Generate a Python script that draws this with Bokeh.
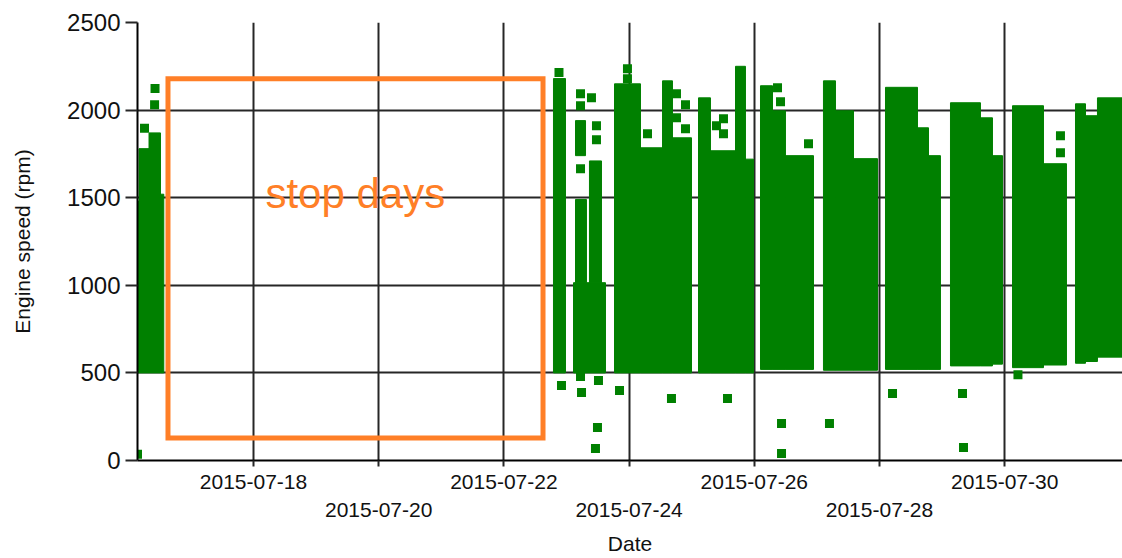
from datetime import datetime, timedelta

from bokeh.core.properties import value
from bokeh.embed import file_html
from bokeh.models import DatetimeAxis, FixedTicker, Range1d
from bokeh.plotting import figure
from bokeh.resources import INLINE

# ---------------- data (x = day of July 2015, fractional; y = rpm) ----------------
# dense bands of recorded engine speed (start day, end day, lowest rpm, highest rpm)
band_start = [16.147, 16.171, 16.331, 16.514,
              22.792,
              23.112, 23.144, 23.367, 23.144,
              23.767, 24.182, 24.534, 24.693,
              25.109, 25.300, 25.700, 25.859,
              26.099, 26.291, 26.498,
              27.105, 27.297, 27.585,
              28.096, 28.607, 28.783,
              29.134, 29.613, 29.805,
              30.125, 30.620,
              31.131, 31.291, 31.482]
band_end = [16.171, 16.331, 16.514, 16.567,
            22.984,
            23.623, 23.319, 23.559, 23.304,
            24.182, 24.534, 24.693, 24.997,
            25.300, 25.700, 25.859, 25.987,
            26.291, 26.498, 26.946,
            27.297, 27.585, 27.968,
            28.607, 28.783, 28.974,
            29.613, 29.805, 29.965,
            30.620, 30.987,
            31.291, 31.482, 31.882]
band_low = [500, 500, 500, 500,
            500,
            500, 1015, 1015, 1740,
            500, 500, 500, 500,
            500, 500, 500, 500,
            520, 520, 520,
            515, 515, 515,
            520, 520, 520,
            540, 540, 550,
            530, 545,
            555, 565, 590]
band_high = [1480, 1780, 1870, 1520,
             2180,
             1015, 1490, 1710, 1940,
             2150, 1785, 2167, 1842,
             2070, 1768, 2250, 1720,
             2139, 1996, 1740,
             2167, 1996, 1723,
             2130, 1899, 1740,
             2042, 1956, 1740,
             2025, 1694,
             2036, 1968, 2070]

# individual samples (square markers)
pt_day = [16.259, 16.427, 16.420, 16.147,
          22.880,
          23.224, 23.224, 23.224, 23.399, 23.479, 23.479, 23.224,
          22.920, 23.240, 23.511, 23.495, 23.463, 23.847, 24.677,
          23.974, 23.974, 24.294, 24.757, 24.901, 24.901, 24.757,
          25.508, 25.508, 25.396, 25.572,
          26.371, 26.419, 26.866, 26.435, 26.435, 27.201,
          28.208,
          29.326, 29.342,
          30.891, 30.891, 30.212]
pt_rpm = [1897, 2124, 2030, 35,
          2215,
          2093, 2025, 1665, 2070, 1911, 1831, 479,
          428, 388, 456, 188, 68, 399, 354,
          2236, 2179, 1865, 2093, 2030, 1894, 1956,
          1951, 1865, 1911, 354,
          2127, 2047, 1808, 211, 40, 211,
          382,
          382, 74,
          1854, 1757, 490]

x_tick_days = [18, 20, 22, 24, 26, 28, 30]
x_tick_labels = ["2015-07-18", "2015-07-20", "2015-07-22", "2015-07-24",
                 "2015-07-26", "2015-07-28", "2015-07-30"]
y_ticks = [0, 500, 1000, 1500, 2000, 2500]

annotation_text = "stop days"
stop_box = dict(left=16.634, right=22.625, bottom=128, top=2179)
stop_text_pos = (18.19, 1523)

# ---------------- helpers ----------------
BASE = datetime(2015, 7, 1)
EPOCH = datetime(1970, 1, 1)


def to_dt(d):
    return BASE + timedelta(days=d - 1)


def to_ms(d):
    return (to_dt(d) - EPOCH).total_seconds() * 1000.0


GREEN = "#008000"
ORANGE = "#FF7F27"
INK = "#111111"
GRID = "#262626"
FONT = "Liberation Sans"

p = figure(width=1122, height=558, x_axis_type="datetime",
           x_range=Range1d(to_dt(16.147), to_dt(31.882)),
           y_range=Range1d(0, 2500),
           output_backend="svg", toolbar_location=None,
           min_border_left=137, min_border_right=0,
           min_border_top=22, min_border_bottom=98)
p.outline_line_color = None
p.background_fill_color = "white"
p.border_fill_color = "white"

# dense bands
p.quad(left=[to_dt(d) for d in band_start], right=[to_dt(d) for d in band_end],
       bottom=band_low, top=band_high,
       fill_color=GREEN, line_color=GREEN, line_width=1)
# single samples
p.scatter(x=[to_dt(d) for d in pt_day], y=pt_rpm, marker="square", size=9,
          fill_color=GREEN, line_color=None)

# annotation
p.quad(left=[to_dt(stop_box["left"])], right=[to_dt(stop_box["right"])],
       bottom=[stop_box["bottom"]], top=[stop_box["top"]],
       fill_color=None, line_color=ORANGE, line_width=5, line_join="miter")
p.text(x=[to_dt(stop_text_pos[0])], y=[stop_text_pos[1]], text=[annotation_text],
       text_color=ORANGE, text_font=value(FONT), text_font_size="42px",
       text_align="left", text_baseline="alphabetic")

# y axis
yt = FixedTicker(ticks=y_ticks)
ya = p.yaxis[0]
ya.ticker = yt
p.ygrid.ticker = yt
ya.axis_label = "Engine speed (rpm)"
ya.axis_label_text_font = FONT
ya.axis_label_text_font_size = "21px"
ya.axis_label_text_font_style = "normal"
ya.axis_label_text_color = INK
ya.axis_label_standoff = 30
ya.major_label_text_font = FONT
ya.major_label_text_font_size = "24px"
ya.major_label_text_color = INK
ya.major_label_standoff = 5
ya.major_tick_out = 12
ya.major_tick_in = 0
ya.major_tick_line_color = GRID
ya.major_tick_line_width = 2
ya.minor_tick_line_color = None
ya.axis_line_color = "black"
ya.axis_line_width = 2

# x axis, first row of labels
tick_ms = [to_ms(d) for d in x_tick_days]
xt = FixedTicker(ticks=tick_ms)
xa = p.xaxis[0]
xa.ticker = xt
p.xgrid.ticker = xt
xa.major_label_overrides = {ms: (lab if i % 2 == 0 else "")
                            for i, (ms, lab) in enumerate(zip(tick_ms, x_tick_labels))}
xa.major_label_text_font = FONT
xa.major_label_text_font_size = "21px"
xa.major_label_text_color = INK
xa.major_label_standoff = 8
xa.major_tick_out = 6
xa.major_tick_in = 0
xa.major_tick_line_color = GRID
xa.major_tick_line_width = 2
xa.minor_tick_line_color = None
xa.axis_line_color = "black"
xa.axis_line_width = 2

# x axis, second (staggered) row of labels
tick_ms2 = [ms for i, ms in enumerate(tick_ms) if i % 2 == 1]
lab2 = [lab for i, lab in enumerate(x_tick_labels) if i % 2 == 1]
xb = DatetimeAxis(ticker=FixedTicker(ticks=tick_ms2),
                  major_label_overrides=dict(zip(tick_ms2, lab2)),
                  axis_line_color=None, major_tick_line_color=None,
                  minor_tick_line_color=None, major_tick_out=0, major_tick_in=0,
                  major_label_standoff=11,
                  major_label_text_font=FONT, major_label_text_font_size="21px",
                  major_label_text_color=INK,
                  axis_label="Date", axis_label_text_font=FONT,
                  axis_label_text_font_size="21px", axis_label_text_font_style="normal",
                  axis_label_text_color=INK, axis_label_standoff=12)
p.add_layout(xb, "below")

for g in (p.xgrid, p.ygrid):
    g.grid_line_color = GRID
    g.grid_line_width = 2

open("out.html", "w").write(file_html(p, INLINE))
